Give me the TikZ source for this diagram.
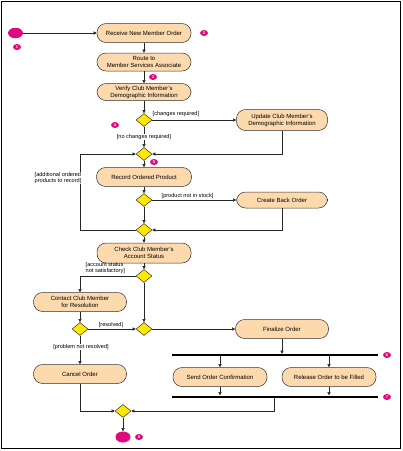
\documentclass[tikz,border=0pt]{standalone}
\usepackage{fontspec}
\setmainfont{Liberation Sans}
\usetikzlibrary{shapes.geometric,arrows.meta}
\definecolor{actfill}{HTML}{FDD9AE}
\definecolor{decfill}{HTML}{FFE800}
\definecolor{magent}{HTML}{DE0A7E}
\tikzset{
  act/.style={draw=black!80, fill=actfill, line width=0.5pt, rounded corners=9pt,
    minimum width=94pt, minimum height=19pt, inner sep=1pt, align=center,
    font=\fontsize{6}{7}\selectfont},
  dec/.style={diamond, draw=black!80, fill=decfill, line width=0.5pt, inner sep=0pt,
    minimum width=16pt, minimum height=13pt},
  term/.style={ellipse, fill=magent, inner sep=0pt, minimum width=15pt, minimum height=10.5pt},
  num/.style={ellipse, fill=magent, inner sep=0pt, minimum width=8pt, minimum height=6pt,
    text=white, font=\fontsize{4}{4}\selectfont\bfseries},
  guard/.style={inner sep=0.5pt, align=left, font=\fontsize{5.6}{6.6}\selectfont},
  bar/.style={fill=black, inner sep=0pt, minimum width=206pt, minimum height=2pt},
  conn/.style={draw=black!85, line width=0.55pt},
  arr/.style={conn, -{Triangle[length=3.2pt,width=3.2pt]}},
}
\begin{document}
\begin{tikzpicture}[x=1pt,y=-1pt]
\useasboundingbox (0,0) rectangle (403,451);
\draw[line width=1pt] (1.5,1.5) rectangle (400.5,448.5);
% nodes
\node[term] (start) at (15.5,33) {};
\node[num] (n1) at (17,47) {1};
\node[act] (receive) at (144,33) {Receive New Member Order};
\node[num] (n2) at (204,33) {2};
\node[act, minimum height=18pt] (route) at (144,62) {Route to\\Member Services Associate};
\node[num] (n3) at (153,77) {3};
\node[act, minimum height=17pt] (verify) at (144,92) {Verify Club Member's\\Demographic Information};
\node[dec] (d1) at (144,120) {};
\node[num] (n4) at (115,125) {4};
\node[guard, anchor=west] (g1) at (152,114) {[changes required]};
\node[act, minimum width=91pt, minimum height=21pt] (update) at (282,120) {Update Club Member's\\Demographic Information};
\node[dec] (m1) at (144,154) {};
\node[num] (n5) at (154,162) {5};
\node[act, minimum width=95pt] (record) at (144,177) {Record Ordered Product};
\node[dec] (d2) at (144,200) {};
\node[guard, anchor=west] (g4) at (161,196) {[product not in stock]};
\node[act, minimum width=91pt, minimum height=16pt] (create) at (282,200) {Create Back Order};
\node[dec] (m2) at (144,230) {};
\node[act, minimum height=20pt] (check) at (144,253) {Check Club Member's\\Account Status};
\node[dec] (d3) at (144,276) {};
\node[guard, anchor=west] (g5) at (85,268) {[account status\\not satisfactory]};
\node[act, minimum width=93pt] (contact) at (80,302) {Contact Club Member\\for Resolution};
\node[dec] (d4) at (80,329) {};
\node[dec] (m3) at (144,329) {};
\node[guard] (g6) at (111,325.5) {[resolved]};
\node[act, minimum width=93pt] (finalize) at (282,329) {Finalize Order};
\node[act, minimum width=93pt] (cancel) at (80,374) {Cancel Order};
\node[bar] (fork) at (275,355) {};
\node[num] (n6) at (387,355) {6};
\node[act] (send) at (220,377) {Send Order Confirmation};
\node[act] (release) at (329,377) {Release Order to be Filled};
\node[bar] (join) at (275,396.5) {};
\node[num] (n7) at (387,397) {7};
\node[dec] (m4) at (123,411) {};
\node[term, minimum height=11pt] (end) at (123,437) {};
\node[num] (n8) at (139,437) {8};
% connectors
\draw[arr] (start) -- (receive);
\draw[arr] (receive) -- (route);
\draw[arr] (route) -- (verify);
\draw[arr] (verify) -- (d1);
\draw[arr] (d1.east) -- (update.west);
\draw[arr] (update.south) |- (m1.east);
\draw[arr] (d1.south) -- (m1.north);
\node[guard, fill=white] (g2) at (144,137) {[no changes required]};
\draw[arr] (m1) -- (record);
\draw[arr] (record) -- (d2);
\draw[arr] (d2.east) -- (create.west);
\draw[arr] (create.south) |- (m2.east);
\draw[arr] (d2.south) -- (m2.north);
\coordinate (loop) at (80,230);
\draw[arr] (m2.west) -- (loop) |- (m1.west);
\node[guard, fill=white, anchor=west] (g3) at (34,178) {[additional ordered\\products to record]};
\draw[arr] (m2) -- (check);
\draw[arr] (check) -- (d3);
\draw[arr] (d3.west) -| (contact.north);
\draw[arr] (contact) -- (d4);
\draw[arr] (d4.east) -- (m3.west);
\draw[arr] (d3.south) -- (m3.north);
\draw[arr] (m3.east) -- (finalize.west);
\draw[arr] (d4.south) -- (cancel.north);
\node[guard, fill=white] (g7) at (81,347) {[problem not resolved]};
\draw[arr] (finalize.south) -- (finalize.south |- fork.north);
\draw[arr] (send.north |- fork.south) -- (send.north);
\draw[arr] (release.north |- fork.south) -- (release.north);
\draw[arr] (send.south) -- (send.south |- join.north);
\draw[arr] (release.south) -- (release.south |- join.north);
\coordinate (jout) at (274,397.5);
\draw[arr] (jout) |- (m4.east);
\draw[arr] (cancel.south) |- (m4.west);
\draw[arr] (m4.south) -- (end.north);
\end{tikzpicture}
\end{document}
